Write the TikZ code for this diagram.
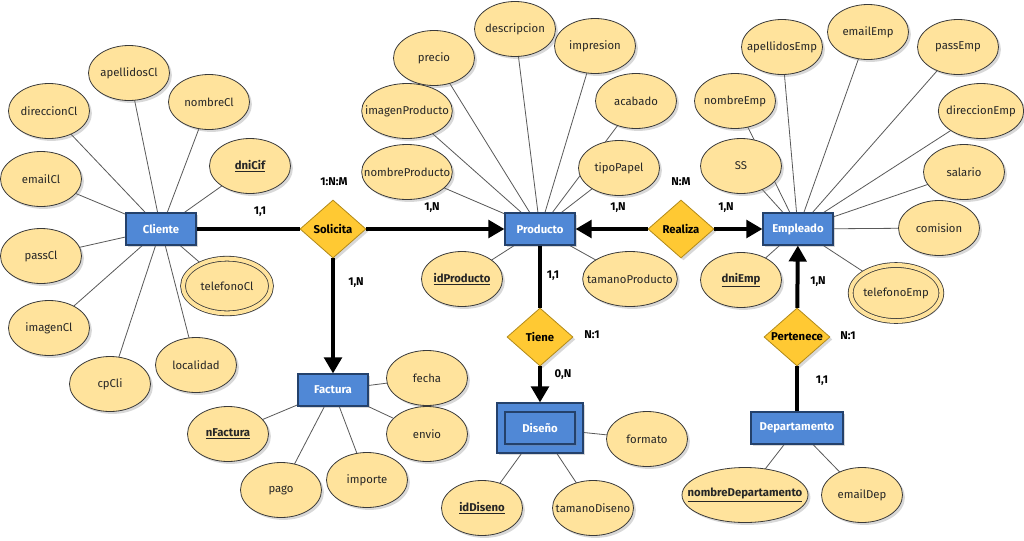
\documentclass[tikz,border=0pt]{standalone}
\usepackage{fontspec}
\setmainfont{Fira Sans}
\usetikzlibrary{shapes.geometric,arrows.meta,shadows,backgrounds}
\definecolor{entfill}{HTML}{5088D6}
\definecolor{entdraw}{HTML}{24416B}
\definecolor{relfill}{HTML}{FFC933}
\definecolor{reldraw}{HTML}{B28A1A}
\definecolor{attfill}{HTML}{FFE39C}
\definecolor{attdraw}{HTML}{3A3A3A}
\tikzset{
 shade/.style={drop shadow={shadow xshift=1.8pt,shadow yshift=-1.8pt,opacity=0.3}},
 entity/.style={rectangle,draw=entdraw,fill=entfill,line width=0.8pt,minimum width=52.5pt,minimum height=24pt,inner sep=0pt,text=white,font=\bfseries\fontsize{8.5}{10}\selectfont,shade},
 rtext/.style={font=\bfseries\fontsize{8.5}{10}\selectfont,text=black},
 rel/.style={diamond,draw=reldraw,fill=relfill,line width=0.6pt,minimum width=49.5pt,minimum height=43.5pt,inner sep=0pt,shade,label={[rtext]center:#1}},
 atext/.style={font=\fontsize{8.5}{10}\selectfont,text=black!85},
 ktext/.style={font=\bfseries\fontsize{8.5}{10}\selectfont,text=black!85},
 attrbase/.style={ellipse,draw=attdraw,fill=attfill,line width=0.6pt,minimum width=60.75pt,minimum height=41.25pt,inner sep=0pt,shade},
 attr/.style={attrbase,label={[atext]center:#1}},
 key/.style={attrbase,label={[ktext]center:\underline{#1}}},
 multi/.style={attrbase,double=attfill,double distance=3pt,minimum width=66pt,minimum height=41pt,label={[atext]center:#1}},
 conn/.style={line width=3pt,black},
 tip/.style={-{Triangle[length=12pt,width=13pt]}},
 link/.style={line width=0.6pt,black!65},
 card/.style={font=\bfseries\fontsize{8.5}{10}\selectfont,text=black},
}
\begin{document}
\begin{tikzpicture}[x=0.75pt,y=-0.75pt]
\useasboundingbox (0,0) rectangle (1024,540);

% entities
\node[entity] (cliente) at (161,229) {Cliente};
\node[entity] (producto) at (540,229) {Producto};
\node[entity] (empleado) at (798,229) {Empleado};
\node[entity] (factura) at (333,390) {Factura};
\node[entity,minimum width=64.5pt,minimum height=37.5pt] (diseno) at (540,428) {};
\node[entity,drop shadow={opacity=0},minimum width=52.5pt,minimum height=24pt] (disenoin) at (540,428) {Diseño};
\node[entity,minimum width=69pt] (departamento) at (797,428) {Departamento};

% relationships
\node[rel=Solicita] (solicita) at (333,229) {};
\node[rel=Realiza] (realiza) at (681,229) {};
\node[rel=Tiene] (tiene) at (540,337) {};
\node[rel=Pertenece] (pertenece) at (797,337) {};

% Cliente attributes
\node[attr=direccionCl] (direccionCl) at (49,111) {};
\node[attr=apellidosCl] (apellidosCl) at (129,73) {};
\node[attr=nombreCl] (nombreCl) at (209,102) {};
\node[key=dniCif] (dniCif) at (250,166) {};
\node[attr=emailCl] (emailCl) at (41,179) {};
\node[attr=passCl] (passCl) at (41,256) {};
\node[multi=telefonoCl] (telefonoCl) at (227,286) {};
\node[attr=imagenCl] (imagenCl) at (49,328) {};
\node[attr=cpCli] (cpCli) at (110,384) {};
\node[attr=localidad] (localidad) at (196,365) {};

% Producto attributes
\node[attr=precio] (precio) at (434,58) {};
\node[attr=descripcion] (descripcion) at (515,29) {};
\node[attr=impresion] (impresion) at (595,46) {};
\node[attr=acabado] (acabado) at (636,101) {};
\node[attr=imagenProducto,minimum width=68pt] (imagenProducto) at (407,111) {};
\node[attr=nombreProducto,minimum width=68pt] (nombreProducto) at (407,172) {};
\node[attr=tipoPapel] (tipoPapel) at (619,168) {};
\node[key=idProducto] (idProducto) at (462,279) {};
\node[attr=tamanoProducto,minimum width=71pt] (tamanoProducto) at (630,279) {};

% Empleado attributes
\node[attr=apellidosEmp] (apellidosEmp) at (782,47) {};
\node[attr=emailEmp] (emailEmp) at (868,32) {};
\node[attr=passEmp] (passEmp) at (958,47) {};
\node[attr=nombreEmp] (nombreEmp) at (735,101) {};
\node[attr=direccionEmp,minimum width=64pt] (direccionEmp) at (981,111) {};
\node[attr=SS] (ss) at (741,166) {};
\node[attr=salario] (salario) at (964,172) {};
\node[attr=comision] (comision) at (939,228) {};
\node[key=dniEmp] (dniEmp) at (741,280) {};
\node[multi=telefonoEmp,minimum width=68pt,minimum height=42pt] (telefonoEmp) at (896,293) {};

% Factura attributes
\node[attr=fecha] (fecha) at (427,378) {};
\node[attr=envio] (envio) at (427,434) {};
\node[attr=importe] (importe) at (367,480) {};
\node[attr=pago] (pago) at (281,490) {};
\node[key=nFactura] (nFactura) at (228,434) {};

% Diseno attributes
\node[attr=formato] (formato) at (647,439) {};
\node[key=idDiseno] (idDiseno) at (482,508) {};
\node[attr=tamanoDiseno] (tamanoDiseno) at (593,508) {};

% Departamento attributes
\node[key=nombreDepartamento,minimum width=94.5pt] (nombreDepartamento) at (745,495) {};
\node[attr=emailDep] (emailDep) at (862,495) {};

% background and attribute links
\begin{scope}[on background layer]
\fill[white] (0,0) rectangle (1024,540);
\foreach \a in {direccionCl,apellidosCl,nombreCl,dniCif,emailCl,passCl,telefonoCl,imagenCl,cpCli,localidad}
  \draw[link] (cliente.center) -- (\a.center);
\foreach \a in {precio,descripcion,impresion,acabado,imagenProducto,nombreProducto,tipoPapel,idProducto,tamanoProducto}
  \draw[link] (producto.center) -- (\a.center);
\foreach \a in {apellidosEmp,emailEmp,passEmp,nombreEmp,direccionEmp,ss,salario,comision,dniEmp,telefonoEmp}
  \draw[link] (empleado.center) -- (\a.center);
\foreach \a in {fecha,envio,importe,pago,nFactura}
  \draw[link] (factura.center) -- (\a.center);
\foreach \a in {formato,idDiseno,tamanoDiseno}
  \draw[link] (diseno.center) -- (\a.center);
\foreach \a in {nombreDepartamento,emailDep}
  \draw[link] (departamento.center) -- (\a.center);
\end{scope}

% relationship connectors
\draw[conn] (cliente) -- (solicita);
\draw[conn,tip] (solicita) -- (producto);
\draw[conn,tip] (solicita) -- (factura);
\draw[conn,tip] (realiza) -- (producto);
\draw[conn,tip] (realiza) -- (empleado);
\draw[conn] (producto) -- (tiene);
\draw[conn,tip] (tiene) -- (diseno);
\draw[conn] (departamento) -- (pertenece);
\draw[conn,tip] (pertenece) -- (empleado);

% cardinalities
\node[card] (c1) at (334,182) {1:N:M};
\node[card] (c2) at (260,212) {1,1};
\node[card] (c3) at (432,208) {1,N};
\node[card] (c4) at (356,283) {1,N};
\node[card] (c5) at (681,182) {N:M};
\node[card] (c6) at (618,208) {1,N};
\node[card] (c7) at (726,208) {1,N};
\node[card] (c8) at (553,276) {1,1};
\node[card] (c9) at (592,335) {N:1};
\node[card] (c10) at (563,375) {0,N};
\node[card] (c11) at (818,282) {1,N};
\node[card] (c12) at (848,336) {N:1};
\node[card] (c13) at (822,381) {1,1};
\end{tikzpicture}
\end{document}
